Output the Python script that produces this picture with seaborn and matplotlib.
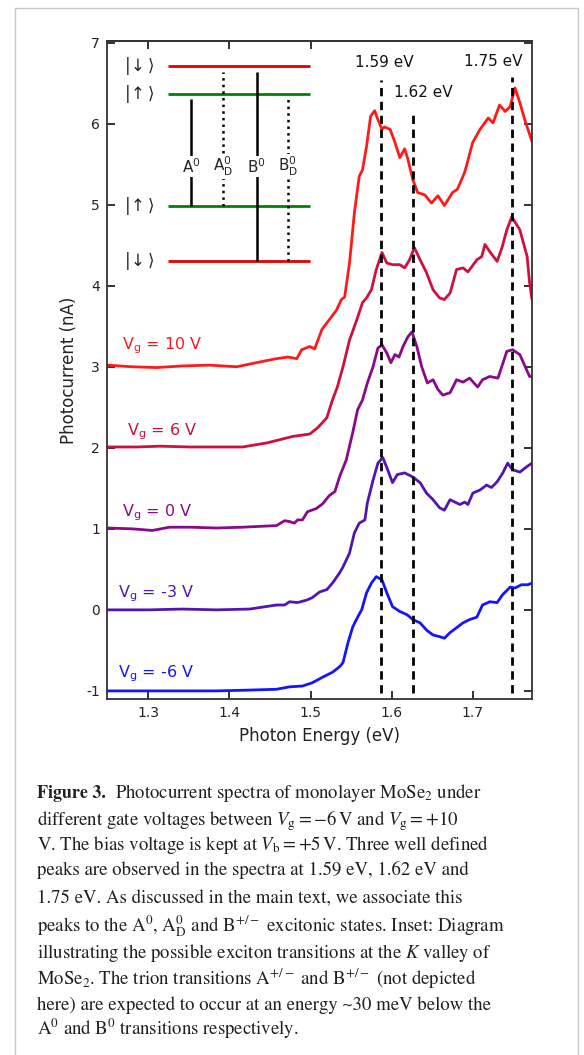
import numpy as np
import pandas as pd
import matplotlib
matplotlib.use("Agg")
import matplotlib.pyplot as plt
import seaborn as sns
from matplotlib.lines import Line2D

# ---------------- data ----------------
energy_10V = [1.249, 1.280, 1.310, 1.342, 1.375, 1.409, 1.433, 1.458, 1.472, 1.483, 1.489, 1.499, 1.505, 1.514,
              1.523, 1.532, 1.538, 1.542, 1.548, 1.554, 1.560, 1.564, 1.569, 1.574, 1.579, 1.583, 1.588, 1.591,
              1.598, 1.604, 1.610, 1.616, 1.620, 1.626, 1.632, 1.641, 1.649, 1.657, 1.665, 1.675, 1.681, 1.690,
              1.700, 1.709, 1.719, 1.725, 1.733, 1.740, 1.746, 1.752, 1.758, 1.764, 1.773]
current_10V = [3.02, 3.00, 2.99, 3.01, 3.02, 3.00, 3.05, 3.10, 3.12, 3.10, 3.21, 3.25, 3.22, 3.46,
               3.58, 3.70, 3.83, 3.86, 4.28, 4.90, 5.35, 5.43, 5.72, 6.09, 6.16, 6.05, 5.93, 5.96,
               5.93, 5.77, 5.58, 5.69, 5.56, 5.31, 5.15, 5.12, 5.02, 5.11, 4.99, 5.15, 5.19, 5.40,
               5.77, 5.93, 6.07, 6.01, 6.23, 6.15, 6.21, 6.44, 6.26, 6.05, 5.78]

energy_6V = [1.249, 1.285, 1.314, 1.351, 1.384, 1.416, 1.446, 1.462, 1.478, 1.499, 1.509, 1.520, 1.527, 1.533,
             1.540, 1.548, 1.557, 1.564, 1.569, 1.575, 1.581, 1.588, 1.594, 1.601, 1.610, 1.616, 1.622, 1.628,
             1.635, 1.643, 1.651, 1.659, 1.665, 1.672, 1.680, 1.688, 1.694, 1.705, 1.711, 1.715, 1.721, 1.730,
             1.736, 1.742, 1.748, 1.758, 1.767, 1.770, 1.773]
current_6V = [2.01, 2.01, 2.02, 2.01, 2.01, 2.01, 2.06, 2.10, 2.14, 2.17, 2.25, 2.37, 2.59, 2.75,
              3.00, 3.33, 3.58, 3.79, 3.85, 3.95, 4.20, 4.41, 4.28, 4.26, 4.26, 4.22, 4.32, 4.47,
              4.32, 4.16, 3.95, 3.85, 3.83, 3.91, 4.20, 4.22, 4.17, 4.32, 4.36, 4.51, 4.42, 4.30,
              4.47, 4.69, 4.85, 4.69, 4.36, 4.04, 3.83]

energy_0V = [1.249, 1.280, 1.305, 1.326, 1.351, 1.384, 1.416, 1.458, 1.468, 1.474, 1.480, 1.484, 1.490, 1.496,
             1.507, 1.515, 1.523, 1.530, 1.536, 1.544, 1.552, 1.558, 1.564, 1.570, 1.577, 1.583, 1.588, 1.594,
             1.599, 1.604, 1.609, 1.614, 1.620, 1.625, 1.631, 1.637, 1.644, 1.651, 1.657, 1.663, 1.672, 1.680,
             1.688, 1.696, 1.706, 1.712, 1.721, 1.731, 1.742, 1.749, 1.758, 1.770, 1.773]
current_0V = [1.01, 1.00, 0.98, 1.02, 1.02, 1.01, 1.02, 1.04, 1.10, 1.09, 1.07, 1.11, 1.11, 1.21,
              1.25, 1.31, 1.41, 1.46, 1.65, 1.85, 2.19, 2.47, 2.59, 2.80, 3.00, 3.23, 3.27, 3.17,
              3.05, 3.15, 3.12, 3.25, 3.37, 3.43, 3.25, 3.00, 2.80, 2.84, 2.72, 2.65, 2.68, 2.84,
              2.81, 2.86, 2.75, 2.84, 2.88, 2.86, 3.19, 3.21, 3.15, 2.88, 2.88]

energy_m3V = [1.249, 1.301, 1.342, 1.384, 1.425, 1.458, 1.468, 1.474, 1.484, 1.495, 1.502, 1.511, 1.520, 1.527,
              1.536, 1.540, 1.548, 1.554, 1.560, 1.567, 1.570, 1.577, 1.583, 1.589, 1.595, 1.601, 1.607, 1.616,
              1.626, 1.635, 1.643, 1.651, 1.659, 1.665, 1.672, 1.678, 1.684, 1.690, 1.694, 1.700, 1.709, 1.717,
              1.723, 1.730, 1.737, 1.743, 1.749, 1.758, 1.767, 1.773]
current_m3V = [0.00, 0.00, 0.01, 0.00, 0.01, 0.06, 0.06, 0.10, 0.09, 0.12, 0.15, 0.22, 0.25, 0.33,
               0.46, 0.53, 0.70, 0.95, 1.07, 1.11, 1.32, 1.60, 1.81, 1.88, 1.73, 1.57, 1.67, 1.69,
               1.64, 1.57, 1.44, 1.36, 1.26, 1.23, 1.36, 1.33, 1.30, 1.33, 1.30, 1.44, 1.48, 1.54,
               1.51, 1.58, 1.69, 1.81, 1.73, 1.70, 1.77, 1.81]

energy_m6V = [1.249, 1.301, 1.342, 1.384, 1.425, 1.458, 1.474, 1.490, 1.502, 1.515, 1.527, 1.536, 1.540, 1.546,
              1.552, 1.558, 1.563, 1.569, 1.575, 1.581, 1.588, 1.594, 1.601, 1.610, 1.619, 1.626, 1.635, 1.643,
              1.651, 1.659, 1.665, 1.672, 1.680, 1.688, 1.696, 1.705, 1.712, 1.721, 1.730, 1.737, 1.746, 1.752,
              1.760, 1.768, 1.773]
current_m6V = [-1.00, -1.00, -1.00, -1.00, -0.99, -0.98, -0.95, -0.94, -0.90, -0.83, -0.77, -0.70, -0.65, -0.41,
               -0.21, -0.09, 0.00, 0.21, 0.33, 0.41, 0.37, 0.21, 0.04, -0.02, -0.06, -0.12, -0.16, -0.25,
               -0.31, -0.33, -0.35, -0.28, -0.22, -0.16, -0.12, -0.09, 0.06, 0.10, 0.09, 0.19, 0.28, 0.27,
               0.31, 0.31, 0.33]

series_labels = ["10 V", "6 V", "0 V", "-3 V", "-6 V"]
series_colors = ["#ff1a1a", "#d0103c", "#880a88", "#5314b0", "#1414ff"]
series_energy = [energy_10V, energy_6V, energy_0V, energy_m3V, energy_m6V]
series_current = [current_10V, current_6V, current_0V, current_m3V, current_m6V]
label_y = [3.22, 2.15, 1.16, 0.16, -0.83]
label_x = [1.268, 1.274, 1.268, 1.262, 1.262]

peak_energies = [1.587, 1.626, 1.748]
peak_texts = ["1.59 eV", "1.62 eV", "1.75 eV"]
peak_line_tops = [6.54, 6.17, 6.58]
peak_text_x = [1.591, 1.6395, 1.725]
peak_text_y = [6.75, 6.38, 6.77]

# inset diagram
levels_y = [6.71, 6.37, 4.98, 4.31]
level_colors = ["#e00000", "#008000", "#008000", "#e00000"]
level_kets = [r"$|\!\downarrow\rangle$", r"$|\!\uparrow\rangle$", r"$|\!\uparrow\rangle$", r"$|\!\downarrow\rangle$"]
trans_x = [1.3527, 1.3918, 1.4337, 1.4720]
trans_top = [6.30, 6.64, 6.64, 6.34]
trans_bottom = [4.98, 4.98, 4.31, 4.31]
trans_style = ["-", ":", "-", ":"]
trans_labels = [r"A$^0$", r"A$_{\rm D}^0$", r"B$^0$", r"B$_{\rm D}^0$"]

caption_lines = [
    r"Photocurrent spectra of monolayer MoSe$_2$ under",
    r"different gate voltages between $V_{\rm g} = -6\,$V and $V_{\rm g} = +10$",
    r"V. The bias voltage is kept at $V_{\rm b} = +5\,$V. Three well defined",
    r"peaks are observed in the spectra at 1.59 eV, 1.62 eV and",
    r"1.75 eV. As discussed in the main text, we associate this",
    r"peaks to the A$^0$, A$_{\rm D}^0$ and B$^{+/-}$ excitonic states. Inset: Diagram",
    r"illustrating the possible exciton transitions at the $K$ valley of",
    r"MoSe$_2$. The trion transitions A$^{+/-}$ and B$^{+/-}$ (not depicted",
    r"here) are expected to occur at an energy ~30 meV below the",
    r"A$^0$ and B$^0$ transitions respectively.",
]
caption_baselines = [798, 825, 850, 875, 903, 932, 958, 985, 1010, 1035]

# ---------------- plotting ----------------
sns.set_style("ticks")
plt.rcParams["font.family"] = ["DejaVu Sans"]
W, H = 584, 1055
fig = plt.figure(figsize=(W / 100, H / 100), dpi=100)
ax = fig.add_axes([107 / W, 1 - 699 / H, 425 / W, 658 / H])

for e, c, col in zip(series_energy, series_current, series_colors):
    df = pd.DataFrame({"energy": e, "current": c})
    sns.lineplot(data=df, x="energy", y="current", ax=ax, color=col, lw=2.0,
                 sort=False, estimator=None, legend=False)

for lx, ly, lab, col in zip(label_x, label_y, series_labels, series_colors):
    ax.text(lx, ly, r"V$_{\rm g}$ = " + lab, color=col, fontsize=11.5, va="baseline", ha="left",
            math_fontfamily="dejavusans")

ax.vlines(peak_energies, [-1.02] * 3, peak_line_tops, colors="black", linestyles=(0, (3, 2)), lw=2.0)
for px, py, pt in zip(peak_text_x, peak_text_y, peak_texts):
    ax.text(px, py, pt, ha="center", va="center", fontsize=11, color="#111111")

# inset
ax.hlines(levels_y, 1.3247, 1.4988, colors=level_colors, lw=2.0)
for ly, ket in zip(levels_y, level_kets):
    ax.text(1.289, ly, ket, ha="center", va="center", fontsize=12, math_fontfamily="dejavusans")
for tx, tt, tb, ts, tl in zip(trans_x, trans_top, trans_bottom, trans_style, trans_labels):
    ax.vlines(tx, tb, tt, colors="black", linestyles=ts, lw=1.8)
    ax.text(tx, 5.47, tl, ha="center", va="center", fontsize=11, math_fontfamily="dejavusans",
            bbox=dict(fc="white", ec="none", pad=0.5))

ax.set_xlim(1.249, 1.773)
ax.set_ylim(-1.1, 7.02)
ax.set_xticks([1.3, 1.4, 1.5, 1.6, 1.7])
ax.set_yticks(range(-1, 8))
ax.set_xticklabels(["1.3", "1.4", "1.5", "1.6", "1.7"])
ax.set_yticklabels([str(v) for v in range(-1, 8)])
ax.tick_params(direction="in", length=6, width=1.3, labelsize=10, colors="#222222",
               right=True, pad=5)
sec = ax.secondary_xaxis("top")
sec.set_xticks([1.3, 1.4, 1.5])
sec.tick_params(direction="in", length=6, width=1.3, labeltop=False, colors="#222222")
for sp in list(ax.spines.values()) + list(sec.spines.values()):
    sp.set_color("#333333")
    sp.set_linewidth(1.3)
    sp.set_visible(True)
ax.set_xlabel("Photon Energy (eV)", fontsize=12, color="#222222", labelpad=5)
ax.set_ylabel("Photocurrent (nA)", fontsize=12, color="#222222", labelpad=6)

# page frame
frame_col = "#c8c8c8"
for xs, ys in [([15, 15], [8, H]), ([15, 578], [8, 8]), ([578, 578], [8, H])]:
    fig.add_artist(Line2D([x / W for x in xs], [1 - y / H for y in ys], color=frame_col, lw=1.0))

# caption
cap_font = "STIXGeneral"
fig.text(37 / W, 1 - caption_baselines[0] / H, "Figure 3.", fontsize=13, fontweight="bold",
         family=cap_font, va="baseline", ha="left", color="#231f20")
for i, (line, yb) in enumerate(zip(caption_lines, caption_baselines)):
    x0 = 115 if i == 0 else 37
    fig.text(x0 / W, 1 - yb / H, line, fontsize=13.5, family=cap_font, math_fontfamily="stix",
             va="baseline", ha="left", color="#231f20")

fig.savefig("out.png", dpi=100)
